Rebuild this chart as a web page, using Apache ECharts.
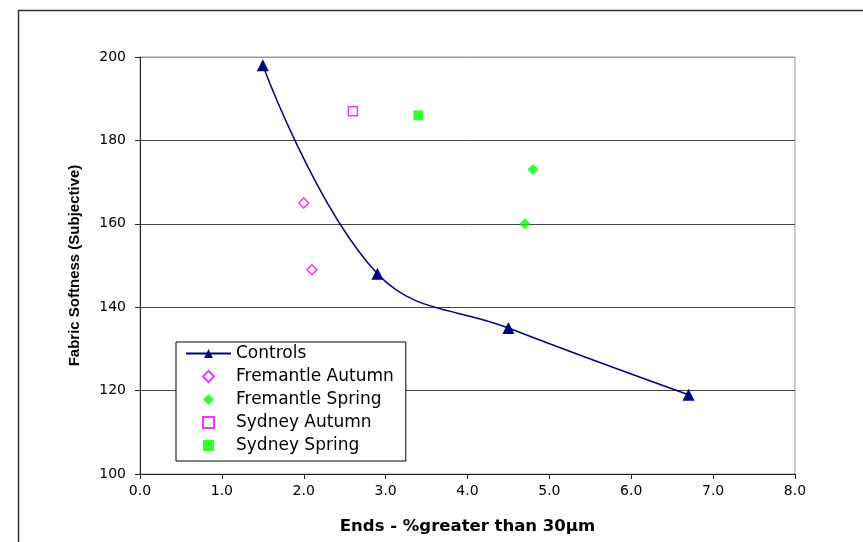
<!DOCTYPE html>
<html>
<head>
<meta charset="utf-8">
<script src="https://cdn.jsdelivr.net/npm/echarts@6/dist/echarts.min.js"></script>
<style>html,body{margin:0;padding:0;background:#fff;}#c{width:863px;height:542px;}</style>
</head>
<body>
<div id="c"></div>
<script>
const seriesNames = ['Controls', 'Fremantle Autumn', 'Fremantle Spring', 'Sydney Autumn', 'Sydney Spring'];
const controls = [[1.5, 198], [2.9, 148], [4.5, 135], [6.7, 119]];
const fremantleAutumn = [[2.0, 165], [2.1, 149]];
const fremantleSpring = [[4.8, 173], [4.7, 160]];
const sydneyAutumn = [[2.6, 187]];
const sydneySpring = [[3.4, 186]];
const xTitle = 'Ends - %greater than 30µm';
const yTitle = 'Fabric Softness (Subjective)';

const font = 'DejaVu Sans, Liberation Sans, sans-serif';
const fontY = 'Liberation Sans, Arial, sans-serif';
const diamondIcon = 'path://M5,0L10,5L5,10L0,5Z';
const rectIcon = 'path://M0,0L10,0L10,10L0,10Z';
const chart = echarts.init(document.getElementById('c'), null, {renderer: 'canvas'});
chart.setOption({
  animation: false,
  backgroundColor: '#fff',
  graphic: [{
    type: 'rect', silent: true, z: -1,
    shape: {x: 18.5, y: 10.5, width: 900, height: 700},
    style: {fill: 'none', stroke: '#333', lineWidth: 1.5}
  }],
  grid: {left: 140, right: 68, top: 57, bottom: 68, show: true, borderColor: '#999', borderWidth: 1, backgroundColor: 'transparent'},
  legend: {
    orient: 'vertical', left: 176, top: 342,
    backgroundColor: '#fff', borderColor: '#000', borderWidth: 1,
    padding: [3, 12, 7, 9], itemGap: 6, itemWidth: 45, itemHeight: 11,
    symbolKeepAspect: true,
    textStyle: {fontFamily: font, fontSize: 17, color: '#000', lineHeight: 17},
    data: [
      {name: seriesNames[0]},
      {name: seriesNames[1], icon: diamondIcon},
      {name: seriesNames[2], icon: diamondIcon},
      {name: seriesNames[3], icon: rectIcon},
      {name: seriesNames[4], icon: rectIcon}
    ]
  },
  xAxis: {
    type: 'value', min: 0, max: 8, interval: 1,
    axisLine: {show: true, onZero: false, lineStyle: {color: '#222', width: 1}},
    axisTick: {show: true, length: 5, lineStyle: {color: '#222'}},
    splitLine: {show: false},
    axisLabel: {fontFamily: font, fontSize: 14, color: '#000', margin: 10, formatter: v => v.toFixed(1)},
    name: xTitle, nameLocation: 'middle', nameGap: 44,
    nameTextStyle: {fontFamily: font, fontSize: 16.5, fontWeight: 'bold', color: '#000'}
  },
  yAxis: {
    type: 'value', min: 100, max: 200, interval: 20,
    axisLine: {show: true, lineStyle: {color: '#222', width: 1}},
    axisTick: {show: true, length: 5, lineStyle: {color: '#222'}},
    splitLine: {show: true, lineStyle: {color: ['#222', '#444', '#444', '#444', '#444', '#999'], width: 1}},
    axisLabel: {fontFamily: font, fontSize: 14, color: '#000', margin: 14},
    name: yTitle, nameLocation: 'middle', nameGap: 58, nameRotate: 90,
    nameTextStyle: {fontFamily: fontY, fontSize: 15, fontWeight: 'bold', color: '#000'}
  },
  series: [
    {
      name: seriesNames[0], type: 'line', data: controls, smooth: 0.4,
      symbol: 'triangle', symbolSize: 12, showSymbol: true,
      lineStyle: {color: '#000080', width: 1.5},
      itemStyle: {color: '#000080'},
      emphasis: {disabled: true}
    },
    {
      name: seriesNames[1], type: 'scatter', data: fremantleAutumn,
      symbol: 'diamond', symbolSize: 10,
      itemStyle: {color: '#fff', borderColor: '#ff00ff', borderWidth: 1.5},
      emphasis: {disabled: true}
    },
    {
      name: seriesNames[2], type: 'scatter', data: fremantleSpring,
      symbol: 'diamond', symbolSize: 11,
      itemStyle: {color: '#00ff00'},
      emphasis: {disabled: true}
    },
    {
      name: seriesNames[3], type: 'scatter', data: sydneyAutumn,
      symbol: 'rect', symbolSize: 9,
      itemStyle: {color: '#fff', borderColor: '#ff00ff', borderWidth: 1.5},
      emphasis: {disabled: true}
    },
    {
      name: seriesNames[4], type: 'scatter', data: sydneySpring,
      symbol: 'rect', symbolSize: 10,
      itemStyle: {color: '#00ff00'},
      emphasis: {disabled: true}
    }
  ]
});
</script>
</body>
</html>
